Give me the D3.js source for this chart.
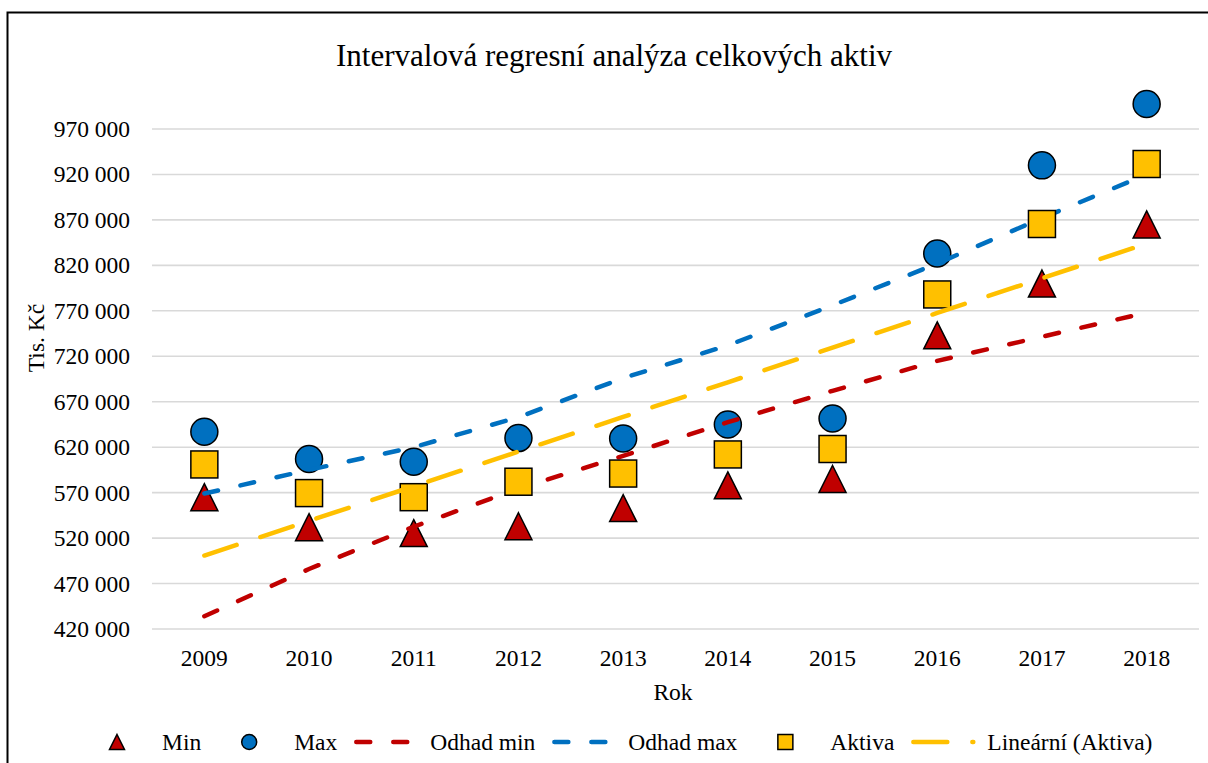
<!DOCTYPE html>
<html>
<head>
<meta charset="utf-8">
<script src="https://cdn.jsdelivr.net/npm/d3@7"></script>
<style>
  body { margin: 0; background: #fff; }
  svg text { font-family: "Liberation Serif", "Times New Roman", serif; fill: #000; }
</style>
</head>
<body>
<svg id="chart" width="1208" height="763"></svg>
<script>
// data
var years = ["2009", "2010", "2011", "2012", "2013", "2014", "2015", "2016", "2017", "2018"];
var minVals = [565000, 532000, 525500, 533000, 553000, 578000, 585000, 743000, 800000, 865000];
var maxVals = [637000, 607000, 604000, 630000, 629500, 645000, 651500, 833000, 930000, 997500];
var aktiva = [601000, 569500, 565000, 582000, 591000, 612000, 618000, 788000, 865500, 931500];
var odhadMin = [434000, 486000, 532500, 574500, 610500, 647500, 682000, 715000, 741500, 768000];
var odhadMax = [569000, 595000, 620000, 653000, 696000, 732000, 776000, 822000, 872000, 920000];
var yTicks = [420000, 470000, 520000, 570000, 620000, 670000, 720000, 770000, 820000, 870000, 920000, 970000];

var RED = "#C00000", BLUE = "#0070C0", GOLD = "#FFC000";

var svg = d3.select("#chart");

// chart border (right and bottom edges lie outside the picture)
svg.append("rect")
  .attr("x", 7.5).attr("y", 12.5)
  .attr("width", 1300).attr("height", 800)
  .attr("fill", "none").attr("stroke", "#000").attr("stroke-width", 2);

var x = d3.scaleBand().domain(years).range([152, 1199]).padding(0);
var y = d3.scaleLinear().domain([420000, 970000]).range([629, 129]);
var cx = function(d, i){ return x(years[i]) + x.bandwidth()/2; };

// title
svg.append("text")
  .attr("x", 614).attr("y", 66)
  .attr("text-anchor", "middle")
  .style("font-size", "31px")
  .text("Intervalová regresní analýza celkových aktiv");

// grid
svg.append("g").selectAll("line").data(yTicks).join("line")
  .attr("x1", 152).attr("x2", 1199)
  .attr("y1", function(d){ return y(d); }).attr("y2", function(d){ return y(d); })
  .attr("stroke", "#d9d9d9").attr("stroke-width", 1.6);

// y axis labels
var fmt = function(v){ return d3.format(",")(v).replace(/,/g, " "); };
var yAxis = svg.append("g")
  .attr("transform", "translate(152,0)")
  .call(d3.axisLeft(y).tickValues(yTicks).tickFormat(fmt).tickSize(0).tickPadding(22));
yAxis.select(".domain").remove();
yAxis.selectAll("text").style("font-size", "23.5px").attr("font-family", null);

// x axis labels
var xAxis = svg.append("g")
  .attr("transform", "translate(0,629)")
  .call(d3.axisBottom(x).tickSize(0).tickPadding(20));
xAxis.select(".domain").remove();
xAxis.selectAll("text").style("font-size", "23.5px").attr("font-family", null);

// axis titles
svg.append("text")
  .attr("x", 673).attr("y", 700)
  .attr("text-anchor", "middle")
  .style("font-size", "23.5px")
  .text("Rok");
svg.append("text")
  .attr("transform", "translate(44,338) rotate(-90)")
  .attr("text-anchor", "middle")
  .style("font-size", "23.5px")
  .text("Tis. Kč");

// marker shapes
function triangle(g, px, py, s, color){
  g.append("path")
    .attr("d", "M" + px + "," + (py - s/2) + "L" + (px + s/2) + "," + (py + s/2) + "L" + (px - s/2) + "," + (py + s/2) + "Z")
    .attr("fill", color).attr("stroke", "#000").attr("stroke-width", 1.5);
}
function circle(g, px, py, s, color){
  g.append("circle").attr("cx", px).attr("cy", py).attr("r", s/2)
    .attr("fill", color).attr("stroke", "#000").attr("stroke-width", 1.5);
}
function square(g, px, py, s, color){
  g.append("rect").attr("x", px - s/2).attr("y", py - s/2).attr("width", s).attr("height", s)
    .attr("fill", color).attr("stroke", "#000").attr("stroke-width", 1.5);
}

var line = d3.line().x(cx).y(function(d){ return y(d); });

function dashed(values, color, dash){
  svg.append("path").datum(values)
    .attr("d", line)
    .attr("fill", "none").attr("stroke", color).attr("stroke-width", 4.5)
    .attr("stroke-linecap", "round").attr("stroke-dasharray", dash);
}

var SHORT = "14,23", LONG = "34,25";

// series in drawing order
var gMin = svg.append("g");
minVals.forEach(function(v, i){ triangle(gMin, cx(v, i), y(v), 27, RED); });
var gMax = svg.append("g");
maxVals.forEach(function(v, i){ circle(gMax, cx(v, i), y(v), 27, BLUE); });
dashed(odhadMin, RED, SHORT);
dashed(odhadMax, BLUE, SHORT);
var gAkt = svg.append("g");
aktiva.forEach(function(v, i){ square(gAkt, cx(v, i), y(v), 27, GOLD); });

// linear trend of Aktiva (least squares)
var n = aktiva.length, mx = (n - 1)/2, my = d3.mean(aktiva);
var sxy = d3.sum(aktiva, function(v, i){ return (i - mx)*(v - my); });
var sxx = d3.sum(aktiva, function(v, i){ return (i - mx)*(i - mx); });
var slope = sxy/sxx, icpt = my - slope*mx;
var trend = aktiva.map(function(v, i){ return icpt + slope*i; });
dashed(trend, GOLD, LONG);

// legend
var legendItems = [
  {name: "Min", kind: "tri", color: RED},
  {name: "Max", kind: "circ", color: BLUE},
  {name: "Odhad min", kind: "line", color: RED, dash: SHORT},
  {name: "Odhad max", kind: "line", color: BLUE, dash: SHORT},
  {name: "Aktiva", kind: "sq", color: GOLD},
  {name: "Lineární (Aktiva)", kind: "line", color: GOLD, dash: LONG}
];
var lg = svg.append("g");
var lx = 162, ly = 742;
legendItems.forEach(function(it){
  var sc = lx - 45;
  if(it.kind == "tri") triangle(lg, sc, ly, 15, it.color);
  if(it.kind == "circ") circle(lg, sc, ly, 15, it.color);
  if(it.kind == "sq") square(lg, sc, ly, 15, it.color);
  if(it.kind == "line"){
    lg.append("line")
      .attr("x1", sc - 29).attr("x2", sc + 31).attr("y1", ly).attr("y2", ly)
      .attr("stroke", it.color).attr("stroke-width", 4.5)
      .attr("stroke-linecap", "round").attr("stroke-dasharray", it.dash);
  }
  var t = lg.append("text").attr("x", lx).attr("y", ly + 8)
    .style("font-size", "23.5px").text(it.name);
  lx += t.node().getComputedTextLength() + 93;
});
</script>
</body>
</html>
